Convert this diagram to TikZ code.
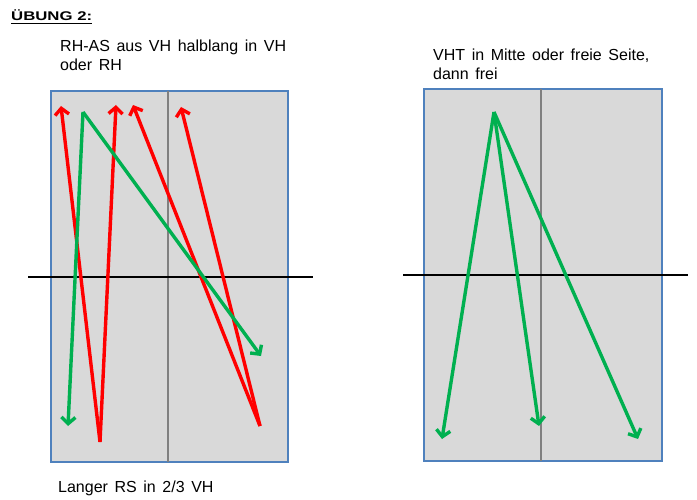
\documentclass[tikz,border=0pt]{standalone}
\usepackage{fontspec}
\usepackage{graphicx}
\setmainfont{Liberation Sans}
\usetikzlibrary{arrows.meta}
\definecolor{courtfill}{HTML}{D9D9D9}
\definecolor{courtedge}{HTML}{4F81BD}
\definecolor{redline}{HTML}{FF0000}
\definecolor{greenline}{HTML}{00B050}
\definecolor{midline}{HTML}{808080}
\newcommand{\widewords}{\spaceskip=6.6pt plus 1pt\relax}
\begin{document}
\begin{tikzpicture}[x=1pt,y=-1pt,
  court/.style={fill=courtfill,draw=courtedge,line width=1.5pt},
  centre/.style={draw=midline,line width=2pt},
  netline/.style={draw=black,line width=1.8pt},
  shot/.style={line width=3.4pt,line join=miter,-{Straight Barb[length=6.5pt,width=14pt]}},
  redshot/.style={shot,draw=redline},
  greenshot/.style={shot,draw=greenline},
  textlabel/.style={anchor=base west,inner sep=0pt,align=left,
    font=\fontsize{16}{19.5}\selectfont, execute at begin node=\widewords},
  titlelabel/.style={anchor=base west,inner sep=0pt,
    font=\bfseries\fontsize{12.6}{15}\selectfont}
]
\useasboundingbox (0,0) rectangle (697,500);
\fill[white] (0,0) rectangle (697,500);

% title
\node[titlelabel] (title) at (11,20.5) {\scalebox{1.33}[1]{ÜBUNG 2:}};
\draw[line width=1.3pt] ([yshift=-3pt]title.base west) -- ([yshift=-3pt]title.base east);

% left court
\draw[court] (51,91) rectangle (288,462);
\coordinate (lct) at (168,91);
\coordinate (lcb) at (168,462);
\draw[centre] (lct) -- (lcb);
\coordinate (lnw) at (28,277);
\coordinate (lne) at (313,277);
\draw[netline] (lnw) -- (lne);

\coordinate (rb1) at (100,442);
\coordinate (rb2) at (260,426);
\coordinate (rt1) at (61,106);
\coordinate (rt2) at (116,105);
\coordinate (rt3) at (133,105);
\coordinate (rt4) at (181,107);
\draw[redshot] (rb1) -- (rt1);
\draw[redshot] (rb1) -- (rt2);
\draw[redshot] (rb2) -- (rt3);
\draw[redshot] (rb2) -- (rt4);

\coordinate (lg) at (83,112);
\coordinate (lg1) at (68,426);
\coordinate (lg2) at (261,356);
\draw[greenshot] (lg) -- (lg1);
\draw[greenshot] (lg) -- (lg2);

% right court
\draw[court] (424,89) rectangle (662,461);
\coordinate (rct) at (541,89);
\coordinate (rcb) at (541,461);
\draw[centre] (rct) -- (rcb);
\coordinate (rnw) at (403,275);
\coordinate (rne) at (688,275);
\draw[netline] (rnw) -- (rne);

\coordinate (rg) at (494,112);
\coordinate (rg1) at (442,439);
\coordinate (rg2) at (539,426);
\coordinate (rg3) at (638,439);
\draw[greenshot] (rg) -- (rg1);
\draw[greenshot] (rg) -- (rg2);
\draw[greenshot] (rg) -- (rg3);

% texts
\node[textlabel] (t1) at (60,71) {RH-AS aus VH halblang in VH\\oder RH};
\node[textlabel] (t2) at (433,80) {VHT in Mitte oder freie Seite,\\dann frei};
\node[textlabel] (t3) at (58,492) {Langer RS in 2/3 VH};
\end{tikzpicture}
\end{document}
